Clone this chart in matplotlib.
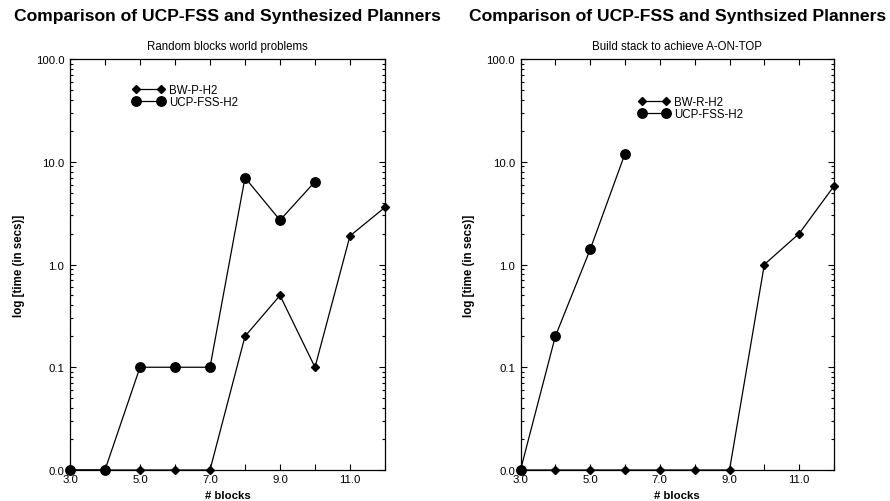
import matplotlib
matplotlib.use("Agg")
import matplotlib.pyplot as plt
from matplotlib.ticker import FixedLocator, FixedFormatter, LogLocator, NullFormatter

plt.rcParams['font.family'] = ['Liberation Sans', 'DejaVu Sans']

blocks = [3, 4, 5, 6, 7, 8, 9, 10, 11, 12]

# Left panel: Random blocks world problems
bw_p_h2 = [0.01, 0.01, 0.01, 0.01, 0.01, 0.2, 0.5, 0.1, 1.9, 3.6]
ucp_fss_left_x = [3, 4, 5, 6, 7, 8, 9, 10]
ucp_fss_left = [0.01, 0.01, 0.1, 0.1, 0.1, 7.0, 2.7, 6.4]

# Right panel: Build stack to achieve A-ON-TOP
bw_r_h2 = [0.01, 0.01, 0.01, 0.01, 0.01, 0.01, 0.01, 1.0, 2.0, 5.8]
ucp_fss_right_x = [3, 4, 5, 6]
ucp_fss_right = [0.01, 0.2, 1.4, 12.0]

main_title_left = "Comparison of UCP-FSS and Synthesized Planners"
main_title_right = "Comparison of UCP-FSS and Synthsized Planners"
sub_left = "Random blocks world problems"
sub_right = "Build stack to achieve A-ON-TOP"

yticks = [0.01, 0.1, 1, 10, 100]
ytick_labels = ["0.0", "0.1", "1.0", "10.0", "100.0"]
xticks = [3, 4, 5, 6, 7, 8, 9, 10, 11, 12]
xtick_labels = ["3.0", "", "5.0", "", "7.0", "", "9.0", "", "11.0", ""]

fig = plt.figure(figsize=(8.9, 5.02), dpi=100)
ax1 = fig.add_axes([70/890, 1-471/502, 315/890, 411/502])
ax2 = fig.add_axes([520.5/890, 1-471/502, 313.5/890, 411/502])


def style(ax, title, sub):
    ax.set_yscale('log')
    ax.set_xlim(3, 12)
    ax.set_ylim(0.01, 100)
    ax.xaxis.set_major_locator(FixedLocator(xticks))
    ax.xaxis.set_major_formatter(FixedFormatter(xtick_labels))
    ax.yaxis.set_major_locator(FixedLocator(yticks))
    ax.yaxis.set_major_formatter(FixedFormatter(ytick_labels))
    ax.yaxis.set_minor_locator(LogLocator(base=10, subs=range(2, 10)))
    ax.yaxis.set_minor_formatter(NullFormatter())
    ax.tick_params(which='both', direction='in', top=True, right=True,
                   labelsize=8.2, width=0.8, pad=4)
    ax.tick_params(axis='x', pad=3)
    ax.tick_params(which='major', length=4)
    ax.tick_params(which='minor', length=2.5)
    for s in ax.spines.values():
        s.set_linewidth(0.9)
    ax.set_xlabel("# blocks", fontsize=8.2, fontweight='bold', labelpad=4)
    ax.set_ylabel("log [time (in secs)]", fontsize=8.3, fontweight='bold', labelpad=8)
    ax.set_title(sub, fontsize=8.3, pad=7)
    ax.text(0.5, 1.0 + 43/411, title, transform=ax.transAxes, ha='center',
            va='center', fontsize=12.6, fontweight='bold')


style(ax1, main_title_left, sub_left)
style(ax2, main_title_right, sub_right)

ax1.plot(blocks, bw_p_h2, color='black', lw=0.9, marker='D', ms=4.5, clip_on=False,
         label='BW-P-H2', zorder=3)
ax1.plot(ucp_fss_left_x, ucp_fss_left, color='black', lw=0.9, marker='o', ms=6.8,
         clip_on=False, label='UCP-FSS-H2', zorder=4)
ax1.legend(loc='upper left', bbox_to_anchor=(0.2, 0.94), frameon=False, fontsize=8.3,
           numpoints=2, handlelength=2.7, handletextpad=0.4, labelspacing=0.03,
           borderpad=0, borderaxespad=0)

ax2.plot(blocks, bw_r_h2, color='black', lw=0.9, marker='D', ms=4.5, clip_on=False,
         label='BW-R-H2', zorder=3)
ax2.plot(ucp_fss_right_x, ucp_fss_right, color='black', lw=0.9, marker='o', ms=6.8,
         clip_on=False, label='UCP-FSS-H2', zorder=4)
ax2.legend(loc='upper left', bbox_to_anchor=(0.375, 0.91), frameon=False, fontsize=8.3,
           numpoints=2, handlelength=2.7, handletextpad=0.4, labelspacing=0.03,
           borderpad=0, borderaxespad=0)

fig.savefig("out.png", dpi=100)
